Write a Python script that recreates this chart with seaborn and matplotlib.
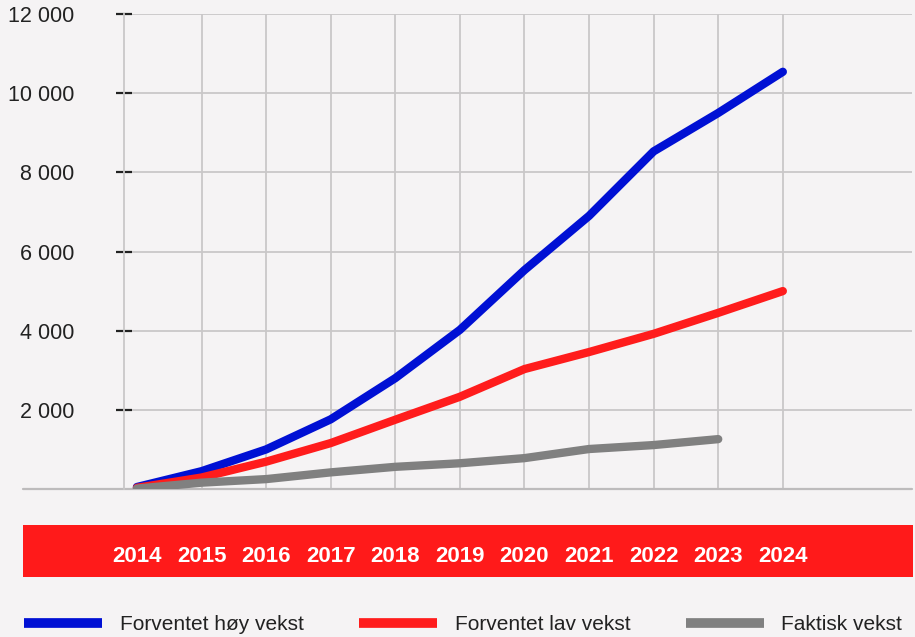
import numpy as np
import pandas as pd
import matplotlib
matplotlib.use("Agg")
import matplotlib.pyplot as plt
from matplotlib.patches import Rectangle
import seaborn as sns

years = [2014, 2015, 2016, 2017, 2018, 2019, 2020, 2021, 2022, 2023, 2024]
hoy = [50, 450, 1000, 1760, 2800, 4020, 5530, 6900, 8530, 9500, 10540]
lav = [30, 290, 690, 1160, 1750, 2330, 3030, 3460, 3920, 4450, 5000]
faktisk_years = [2014, 2015, 2016, 2017, 2018, 2019, 2020, 2021, 2022, 2023]
faktisk = [10, 160, 250, 420, 560, 650, 780, 1010, 1110, 1260]
series_names = ["Forventet høy vekst", "Forventet lav vekst", "Faktisk vekst"]
y_ticks = [2000, 4000, 6000, 8000, 10000, 12000]
y_labels = ["2 000", "4 000", "6 000", "8 000", "10 000", "12 000"]

colors = ["#0010d4", "#ff1c1c", "#808080"]
BG = "#f5f3f4"

df = pd.concat([
    pd.DataFrame({"år": years, "verdi": hoy, "serie": series_names[0]}),
    pd.DataFrame({"år": years, "verdi": lav, "serie": series_names[1]}),
    pd.DataFrame({"år": faktisk_years, "verdi": faktisk, "serie": series_names[2]}),
])

sns.set_theme(style="white")
plt.rcParams["font.family"] = ["Liberation Sans", "DejaVu Sans"]

W, H = 915, 637
fig = plt.figure(figsize=(W / 100, H / 100), dpi=100, facecolor=BG)
ax = fig.add_axes([124 / W, 1 - 489 / H, (912 - 124) / W, (489 - 14) / H])
ax.set_facecolor(BG)

sns.lineplot(data=df, x="år", y="verdi", hue="serie", hue_order=series_names,
             palette=colors, linewidth=6, ax=ax, legend=True,
             solid_capstyle="round", zorder=3)

ax.set_xlim(2013.8, 2026.0)
ax.set_ylim(0, 12000)
ax.set_xlabel("")
ax.set_ylabel("")

ax.set_xticks(years)
ax.set_xticklabels([str(y) for y in years])
ax.set_yticks(y_ticks)
ax.set_yticklabels(y_labels)

grid_kw = dict(color="#c9c7c8", linewidth=1.3)
ax.grid(True, axis="both", **grid_kw)
ax.get_xgridlines()[0].set_visible(False)
ax.set_axisbelow(True)

for s in ["top", "right", "bottom"]:
    ax.spines[s].set_visible(False)
ax.spines["left"].set_color("#c9c7c8")
ax.spines["left"].set_linewidth(1.3)

ax.tick_params(axis="y", direction="inout", length=11.5, width=1.6, color="#222222",
               labelsize=15.5, labelcolor="#222222", pad=30, left=True)
ax.tick_params(axis="x", length=0, labelsize=16, labelcolor="white", pad=41)
for lab in ax.get_xticklabels():
    lab.set_fontweight("bold")

ax.axhline(0, xmin=(23 - 124) / (912 - 124), xmax=1.0, color="#bdbbbc",
           linewidth=1.6, clip_on=False, zorder=2)

fig.patches.append(Rectangle((23 / W, 1 - 577 / H), (913 - 23) / W, 52 / H,
                             transform=fig.transFigure, facecolor="#ff1a1a",
                             edgecolor="none", zorder=-1))

handles, labels = ax.get_legend_handles_labels()
ax.get_legend().remove()
for h in handles:
    h.set_linewidth(7)
    h.set_solid_capstyle("butt")
leg = fig.legend(handles, labels, loc="center left",
                 bbox_to_anchor=(24 / W, 1 - 625 / H), ncol=3, frameon=False,
                 fontsize=15, handlelength=3.75, handletextpad=0.85,
                 columnspacing=2.65, borderpad=0, borderaxespad=0)
for t in leg.get_texts():
    t.set_color("#222222")

fig.savefig("out.png", dpi=100, facecolor=BG)
